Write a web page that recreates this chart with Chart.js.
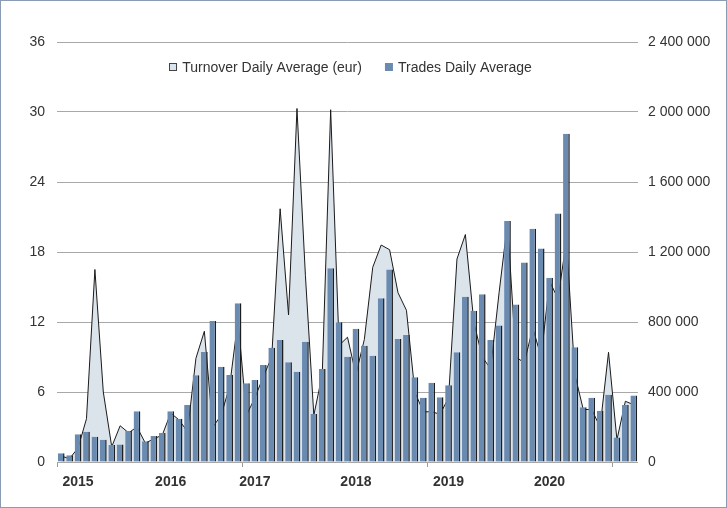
<!DOCTYPE html>
<html>
<head>
<meta charset="utf-8">
<script src="https://cdn.jsdelivr.net/npm/chart.js@4/dist/chart.umd.min.js"></script>
<style>
  html, body { margin: 0; padding: 0; background: #ffffff; }
  #wrap { width: 727px; height: 508px; position: relative; }
</style>
</head>
<body>
<div id="wrap"><canvas id="c" width="727" height="508"></canvas></div>
<script>
// ---- data ----
const xTickLabels = ['', '', '2015', '', '', '', '', '', '', '', '', '', '', '2016', '', '', '', '', '', '', '', '', '', '2017',
  '', '', '', '', '', '', '', '', '', '', '', '2018', '', '', '', '', '', '', '', '', '', '', '2019', '',
  '', '', '', '', '', '', '', '', '', '', '2020', '', '', '', '', '', '', '', '', '', ''];

const tradesDailyAverage = [0.74, 0.57, 2.37, 2.6, 2.17, 1.9, 1.46, 1.5, 2.66, 4.34, 1.77, 2.23, 2.49, 4.34, 3.71, 4.89,
  7.43, 9.43, 12.09, 8.17, 7.46, 13.6, 6.74, 7.03, 8.31, 9.8, 10.46, 8.54, 7.74, 10.31, 4.11, 7.97,
  16.6, 11.97, 9.03, 11.43, 9.97, 9.11, 14.03, 16.51, 10.54, 10.89, 7.26, 5.51, 6.8, 5.54, 6.57, 9.4,
  14.17, 12.97, 14.37, 10.46, 11.69, 20.66, 13.51, 17.09, 20.0, 18.29, 15.8, 21.31, 28.14, 9.83, 4.69, 5.51,
  4.4, 5.77, 2.09, 4.89, 5.69];

const turnoverDailyAverage = [33000, 20000, 80000, 247000, 1100000, 400000, 87000, 207000, 167000, 200000, 107000, 133000,
  153000, 280000, 240000, 173000, 593000, 747000, 200000, 267000, 433000, 813000, 267000, 367000,
  487000, 600000, 1447000, 840000, 2020000, 1067000, 267000, 500000, 2013000, 667000, 713000, 500000,
  700000, 1113000, 1240000, 1213000, 967000, 867000, 400000, 287000, 287000, 273000, 367000, 1160000,
  1300000, 800000, 600000, 533000, 967000, 1367000, 600000, 567000, 767000, 600000, 1033000, 933000,
  1267000, 500000, 300000, 300000, 200000, 627000, 127000, 347000, 327000];

const seriesNames = ['Turnover Daily Average (eur)', 'Trades Daily Average'];
const leftTicks = { min: 0, max: 36, step: 6 };
const rightTicks = { min: 0, max: 2400000, step: 400000 };

// ---- styles ----
const FONT = "'Liberation Sans', Arial, Helvetica, sans-serif";
const BAR_FILL = '#6a8ab0';
const BAR_SHADOW = '#1e1e1e';
const AREA_FILL = '#dbe3eb';
const AREA_LINE = '#1a1a1a';
const GRID = '#a8a8a8';
const TEXT = '#333333';

const frame = {
  id: 'frame',
  afterDraw(chart) {
    const ctx = chart.ctx;
    ctx.save();
    ctx.strokeStyle = '#8a9cb4';
    ctx.lineWidth = 1;
    ctx.strokeRect(0.5, 0.5, chart.width - 1, chart.height - 1);
    ctx.restore();
  }
};

// legend drawn inside the plot area, near its top, like the reference
const innerLegend = {
  id: 'innerLegend',
  afterDraw(chart) {
    const ctx = chart.ctx;
    const area = chart.chartArea;
    const items = chart.data.datasets.map((ds) => ({
      text: ds.label,
      fill: ds.type === 'line' ? ds.backgroundColor : ds.backgroundColor,
      stroke: ds.type === 'line' ? '#444444' : null
    }));
    ctx.save();
    ctx.font = '14px ' + FONT;
    ctx.textBaseline = 'middle';
    const box = 8, gapText = 5, gapItem = 23;
    const widths = items.map((it) => box + gapText + ctx.measureText(it.text).width);
    const total = widths.reduce((a, b) => a + b, 0) + gapItem * (items.length - 1);
    let x = (area.left + area.right) / 2 + 3 - total / 2;
    const cy = area.top + 25;
    items.forEach((it, i) => {
      ctx.fillStyle = it.fill;
      ctx.fillRect(x, cy - box / 2, box, box);
      if (it.stroke) {
        ctx.strokeStyle = it.stroke;
        ctx.lineWidth = 1;
        ctx.strokeRect(Math.round(x) + 0.5, Math.round(cy - box / 2) + 0.5, box - 1, box - 1);
      }
      ctx.fillStyle = TEXT;
      ctx.textAlign = 'left';
      ctx.fillText(it.text, x + box + gapText, cy + 1);
      x += widths[i] + gapItem;
    });
    ctx.restore();
  }
};

new Chart(document.getElementById('c'), {
  data: {
    labels: xTickLabels,
    datasets: [
      {
        type: 'line',
        label: seriesNames[0],
        data: turnoverDailyAverage,
        yAxisID: 'y1',
        fill: 'origin',
        backgroundColor: AREA_FILL,
        borderColor: AREA_LINE,
        borderWidth: 1,
        pointRadius: 0,
        tension: 0,
        order: 2
      },
      {
        type: 'bar',
        label: seriesNames[1],
        data: tradesDailyAverage,
        yAxisID: 'y',
        backgroundColor: BAR_FILL,
        borderColor: BAR_SHADOW,
        borderWidth: { top: 0, left: 0, bottom: 0, right: 1.5 },
        borderSkipped: false,
        barPercentage: 0.8,
        categoryPercentage: 1.0,
        order: 1
      }
    ]
  },
  options: {
    responsive: false,
    animation: false,
    devicePixelRatio: 1,
    layout: { padding: { top: 42, left: 0, right: 0, bottom: 0 } },
    plugins: {
      tooltip: { enabled: false },
      legend: { display: false }
    },
    scales: {
      x: {
        type: 'category',
        offset: true,
        border: { display: false },
        grid: {
          display: true,
          drawOnChartArea: false,
          drawTicks: true,
          tickLength: 5,
          offset: true,
          color: (ctx) => (ctx.index % 22 === 0 ? '#9a9a9a' : 'rgba(0,0,0,0)')
        },
        ticks: {
          autoSkip: false,
          maxRotation: 0,
          minRotation: 0,
          padding: 7,
          color: TEXT,
          font: { family: FONT, size: 14, weight: 'bold' }
        },
        afterFit: (s) => { s.height = 46; }
      },
      y: {
        position: 'left',
        min: leftTicks.min,
        max: leftTicks.max,
        border: { display: false },
        grid: { color: GRID, lineWidth: 1, drawTicks: false },
        ticks: {
          stepSize: leftTicks.step,
          padding: 12,
          color: TEXT,
          font: { family: FONT, size: 14 }
        },
        afterFit: (s) => { s.width = 57; }
      },
      y1: {
        position: 'right',
        min: rightTicks.min,
        max: rightTicks.max,
        border: { display: false },
        grid: { display: false, drawTicks: false },
        ticks: {
          stepSize: rightTicks.step,
          padding: 10,
          color: TEXT,
          font: { family: FONT, size: 14 },
          callback: (v) => String(v).replace(/\B(?=(\d{3})+(?!\d))/g, ' ')
        },
        afterFit: (s) => { s.width = 89; }
      }
    }
  },
  plugins: [frame, innerLegend]
});
</script>
</body>
</html>
